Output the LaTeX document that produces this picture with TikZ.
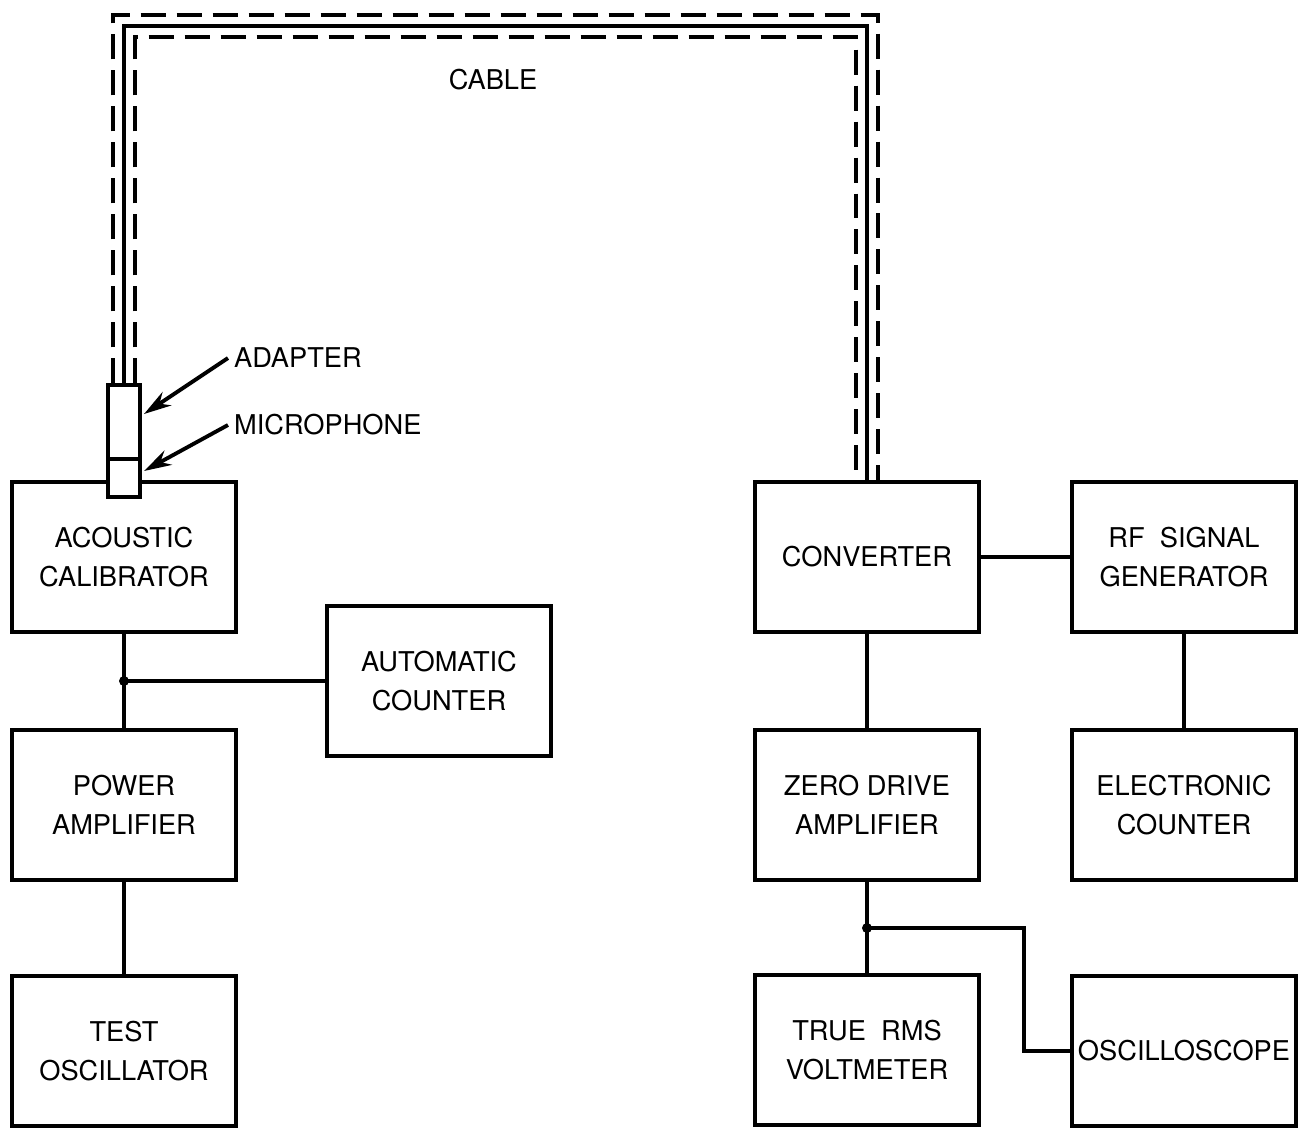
\documentclass[tikz,border=0pt]{standalone}
\usepackage{fontspec}
\setmainfont{TeX Gyre Heros}
\usetikzlibrary{arrows.meta}

\begin{document}
\begin{tikzpicture}[x=0.02cm,y=-0.02cm,font=\fontsize{15.5}{22}\selectfont,
    box/.style={draw,line width=2.2pt,minimum width=4.48cm,minimum height=3cm,align=center,inner sep=1pt},
    wire/.style={line width=2.2pt},
    shield/.style={line width=2.8pt,dash pattern=on 0.5cm off 0.22cm},
    pointer/.style={line width=2.2pt,-{Stealth[length=0.55cm,width=0.32cm]}}]
  \useasboundingbox (0,0) rectangle (1299,1127);

  % instrument boxes
  \foreach \nm/\cx/\cy/\txt in {calib/124/557/{ACOUSTIC\\CALIBRATOR},
      power/124/805/{POWER\\AMPLIFIER}, osc/124/1051/{TEST\\OSCILLATOR},
      autocount/439/681/{AUTOMATIC\\COUNTER}, conv/867/557/{CONVERTER},
      rfgen/1184/557/{RF\ \ SIGNAL\\GENERATOR}, zero/867/805/{ZERO DRIVE\\AMPLIFIER},
      elcount/1184/805/{ELECTRONIC\\COUNTER}, rms/867/1050/{TRUE\ \ RMS\\VOLTMETER},
      scope/1184/1051/{OSCILLOSCOPE}}
    \node[box] (\nm) at (\cx,\cy) {\txt};

  % microphone with adapter on the calibrator
  \node[draw,fill=white,line width=2pt,minimum width=0.64cm,minimum height=2.24cm,inner sep=0pt] (adapter) at (124,441) {};
  \draw[line width=2pt] (adapter.west |- 0,459) -- (adapter.east |- 0,459);

  % cable
  \coordinate (ctop) at (500,26);
  \draw[wire] (adapter.north) |- (ctop) -| (conv.north);
  \draw[shield] ([xshift=-0.22cm]adapter.north) |- ([yshift=0.22cm]ctop) -| ([xshift=0.22cm]conv.north);
  \draw[shield] ([xshift=0.22cm]adapter.north) |- ([yshift=-0.22cm]ctop) -| ([xshift=-0.22cm]conv.north);
  \node (cable) at (493,80) {CABLE};

  % labels with pointers
  \node[anchor=west] (adlbl) at (228,358) {ADAPTER};
  \node[anchor=west] (miclbl) at (228,425) {MICROPHONE};
  \coordinate (adtip) at (144,414);
  \coordinate (mictip) at (144,471);
  \draw[pointer] (adlbl.west) -- (adtip);
  \draw[pointer] (miclbl.west) -- (mictip);

  % connections
  \coordinate (j1) at (calib.south |- autocount.west);
  \coordinate (j2) at (867,928);
  \coordinate (bend) at (1024,928);
  \draw[wire] (calib) -- (power);
  \draw[wire] (power) -- (osc);
  \draw[wire] (j1) -- (autocount.west);
  \draw[wire] (conv) -- (rfgen);
  \draw[wire] (conv) -- (zero);
  \draw[wire] (rfgen) -- (elcount);
  \draw[wire] (zero) -- (rms);
  \draw[wire] (j2) -- (bend) |- (scope.west);
  \foreach \j in {j1,j2}
    \fill (\j) circle[radius=0.1cm];
\end{tikzpicture}
\end{document}
